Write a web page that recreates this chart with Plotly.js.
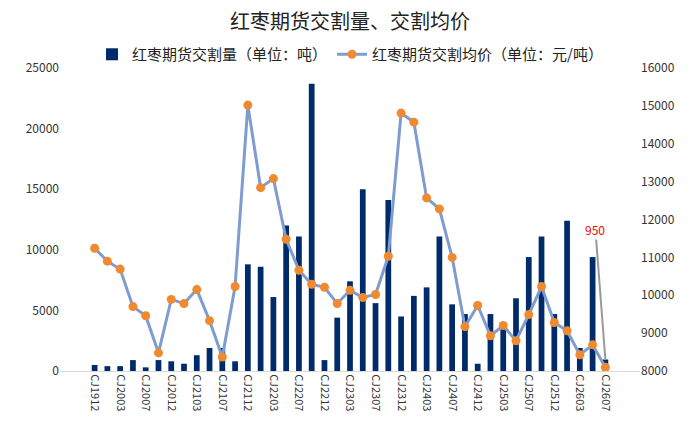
<!DOCTYPE html>
<html><head><meta charset="utf-8">
<script src="https://cdn.plot.ly/plotly-3.0.1.min.js"></script>
<style>body{margin:0}#myDiv{width:700px;height:426px}</style>
</head><body><div id="myDiv"></div>
<script>
var contracts = ['CJ1912','CJ2001','CJ2003','CJ2005','CJ2007','CJ2009','CJ2012','CJ2101','CJ2103','CJ2105','CJ2107','CJ2109','CJ2112','CJ2201','CJ2203','CJ2205','CJ2207','CJ2209','CJ2212','CJ2301','CJ2303','CJ2305','CJ2307','CJ2309','CJ2312','CJ2401','CJ2403','CJ2405','CJ2407','CJ2409','CJ2412','CJ2501','CJ2503','CJ2505','CJ2507','CJ2509','CJ2512','CJ2601','CJ2603','CJ2605','CJ2607'];
var volume = [500,400,400,900,300,900,800,600,1300,1900,1900,800,8800,8600,6100,12000,11100,23700,900,4400,7400,15000,5600,14100,4500,6200,6900,11100,5500,4700,600,4700,3600,6000,9400,11100,4700,12400,1900,9400,950];
var price = [11240,10900,10690,9700,9460,8480,9890,9780,10150,9330,8370,10230,15020,12840,13080,11480,10660,10290,10210,9780,10130,9940,10020,11030,14810,14570,12570,12280,11000,9170,9730,8930,9200,8800,9490,10230,9280,9060,8430,8690,8100];

var font = {family: 'Noto Sans CJK SC, sans-serif', size: 12, color: '#333'};

var plotData = [
  {
    x: contracts, y: volume, type: 'bar', name: '红枣期货交割量（单位：吨）',
    marker: {color: '#002b6b'}
  },
  {
    x: contracts, y: price, type: 'scatter', mode: 'lines+markers', yaxis: 'y2',
    name: '红枣期货交割均价（单位：元/吨）',
    line: {color: '#7f9cd0', width: 3},
    marker: {color: '#f08a30', size: 9}
  }
];

var layout = {
  width: 700, height: 426,
  font: font,
  title: {text: '红枣期货交割量、交割均价', font: {size: 20, color: '#222'}, x: 0.5, y: 0.965},
  showlegend: true,
  legend: {orientation: 'h', x: 0.5, xanchor: 'center', y: 0.99, yanchor: 'bottom', font: {size: 15, color: '#222'}},
  margin: {l: 60, r: 60, t: 68, b: 55},
  bargap: 0.55,
  xaxis: {type: 'category', tickangle: 90, tickfont: {size: 11}, showline: true, linecolor: '#d9d9d9', ticks: ''},
  yaxis: {range: [0, 25000], dtick: 5000, tickformat: 'd', showgrid: false, zeroline: false, tickfont: {size: 12}},
  yaxis2: {overlaying: 'y', side: 'right', range: [8000, 16000], dtick: 1000, tickformat: 'd', showgrid: false, tickfont: {size: 12}},
  annotations: [{
    x: 'CJ2607', y: volume[40], xref: 'x', yref: 'y', text: '950',
    font: {color: '#ff0000', size: 12}, showarrow: true, arrowhead: 0, arrowcolor: '#999',
    ax: -10, ay: -130
  }],
  plot_bgcolor: '#fff', paper_bgcolor: '#fff'
};

Plotly.newPlot('myDiv', plotData, layout, {displayModeBar: false});
</script>
</body></html>
